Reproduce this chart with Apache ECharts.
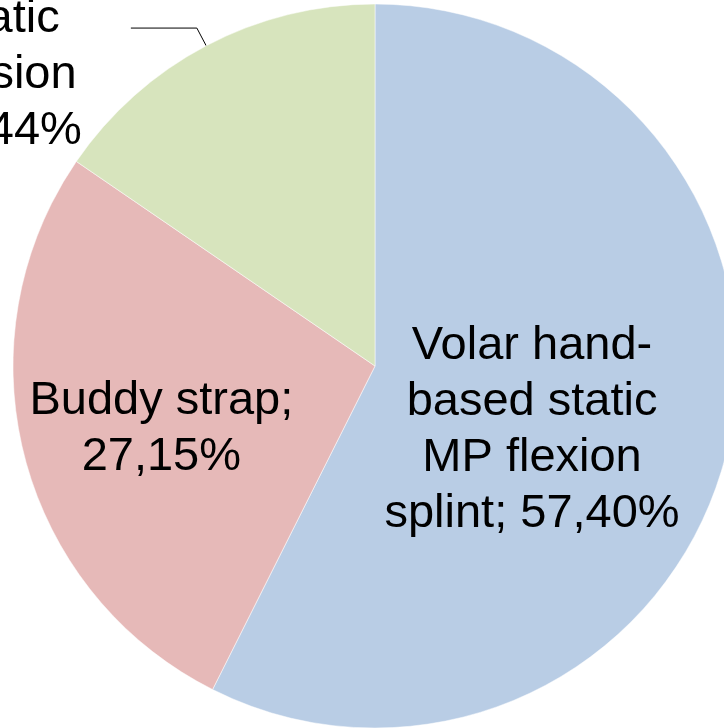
<!DOCTYPE html>
<html>
<head>
<meta charset="utf-8">
<script src="https://cdn.jsdelivr.net/npm/echarts@6/dist/echarts.min.js"></script>
<style>
  html, body { margin: 0; padding: 0; background: #fff; }
  #pie { width: 724px; height: 728px; }
</style>
</head>
<body>
<div id="pie"></div>
<script>
// 数据
var categories = [
  'Volar hand-based static MP flexion splint',
  'Buddy strap',
  'Dorsal hand-based static MP extension splint'
]
var values = [57.40, 27.15, 15.44]
// 标签换行, {v} = 百分比
var labelText = [
  'Volar hand-\nbased static\nMP flexion\nsplint; {v}',
  'Buddy strap;\n{v}',
  'Dorsal hand-\nbased static\nMP extension\nsplint; {v}'
]
var colors = ['#B9CDE5', '#E6B9B8', '#D7E4BD']

var myChart = echarts.init(document.getElementById('pie'))

function fmt(params) {
  var v = values[params.dataIndex].toFixed(2).replace('.', ',') + '%'
  var txt = labelText[params.dataIndex].replace('{v}', v)
  return txt.split('\n').map(function(s) { return '{c|' + s + '}' }).join('\n')
}

var seriesData = []
for (var i = 0; i < categories.length; i++) {
  seriesData.push({ name: categories[i], value: values[i], itemStyle: { color: colors[i] } })
}
// 标签微调
seriesData[0].label = { padding: [44, 44, 0, 0] }
seriesData[1].label = { padding: [34, 71, 0, 0] }
seriesData[2].label = { position: 'outside', padding: [38, 0, 0, 0], distanceToLabelLine: 49 }
seriesData[2].labelLine = {
  show: true,
  length: 20,
  length2: 66,
  lineStyle: { color: '#000', width: 1 }
}

var option = {
  backgroundColor: '#fff',
  animation: false,
  series: [
    {
      type: 'pie',
      center: [375, 366],
      radius: [0, 362],
      startAngle: 90,
      clockwise: true,
      avoidLabelOverlap: false,
      itemStyle: {
        borderColor: '#fff',
        borderWidth: 0.5
      },
      label: {
        show: true,
        position: 'inside',
        color: '#000',
        formatter: fmt,
        rich: {
          c: {
            align: 'center',
            color: '#000',
            fontFamily: 'Liberation Sans, Arial, sans-serif',
            fontSize: 47,
            lineHeight: 56
          }
        }
      },
      labelLine: { show: false },
      emphasis: { scale: false },
      data: seriesData
    }
  ]
}
myChart.setOption(option)
</script>
</body>
</html>
